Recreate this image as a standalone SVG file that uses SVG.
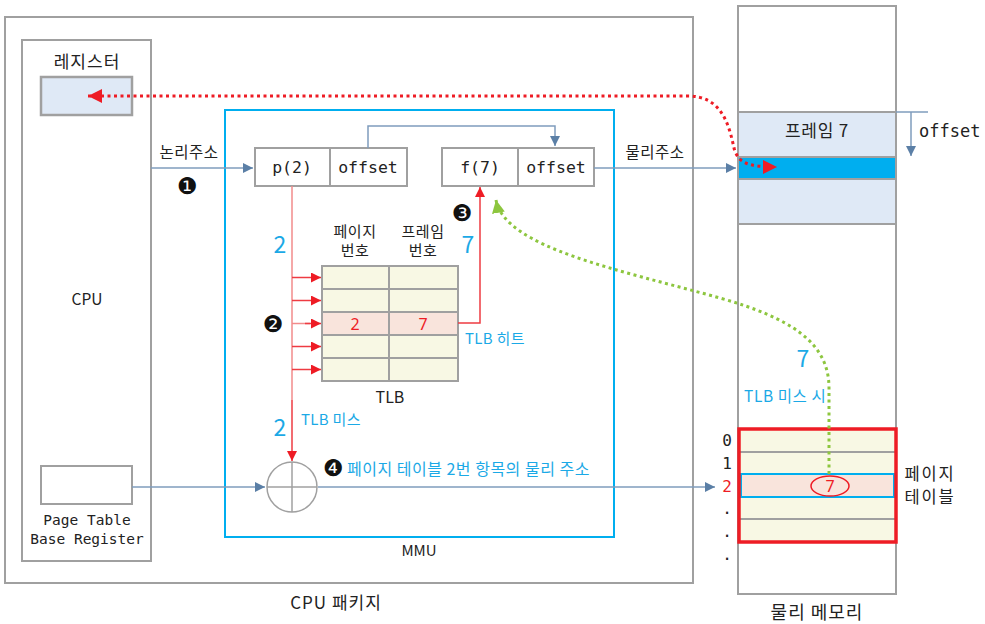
<svg xmlns="http://www.w3.org/2000/svg" width="985" height="624" viewBox="0 0 985 624">
<defs>
<marker id="aBlue" viewBox="0 0 10 10" refX="10" refY="5" markerWidth="10" markerHeight="10" markerUnits="userSpaceOnUse" orient="auto"><path d="M0,0 L10,5 L0,10 z" fill="#5b7fa6"/></marker>
<marker id="aRed" viewBox="0 0 10 10" refX="10" refY="5" markerWidth="10" markerHeight="10" markerUnits="userSpaceOnUse" orient="auto"><path d="M0,0 L10,5 L0,10 z" fill="#ee1c25"/></marker>
<marker id="aRedBig" viewBox="0 0 12 12" refX="12" refY="6" markerWidth="14" markerHeight="14" markerUnits="userSpaceOnUse" orient="auto-start-reverse"><path d="M0,0 L12,6 L0,12 z" fill="#ee1c25"/></marker>
<marker id="aGreen" viewBox="0 0 12 12" refX="12" refY="6" markerWidth="13" markerHeight="13" markerUnits="userSpaceOnUse" orient="auto"><path d="M0,0 L12,6 L0,12 z" fill="#8dc63f"/></marker>
</defs>
<style>
.box{fill:#fff;stroke:#a0a0a0;stroke-width:2}
.reg{fill:#dfe9f6;stroke:#a0a0a0;stroke-width:2.5}
.cyanbox{fill:none;stroke:#00aeef;stroke-width:2}
.t{font-family:"Noto Sans CJK KR","Noto Sans",sans-serif;fill:#222}
.m{font-family:"DejaVu Sans Mono","Liberation Mono",monospace;fill:#222}
.c{font-family:"Noto Sans CJK KR","Noto Sans",sans-serif;fill:#1ba9e6}
.num{font-family:"DejaVu Sans",sans-serif;fill:#111}
.conn{fill:none;stroke:#7f9cbd;stroke-width:1.5}
.red{fill:none;stroke:#ee3b42;stroke-width:1.5}
.pink{fill:none;stroke:#f28b8b;stroke-width:1.5}
.tlb{fill:#f8f8e4;stroke:#a0a0a0;stroke-width:2}
.hit{fill:#f9e4dc;stroke:#a0a0a0;stroke-width:2}
</style>

<g id="cpu-package">
<rect x="5" y="17" width="688" height="566" fill="#fff" stroke="#a0a0a0" stroke-width="2"/>
<text class="t" x="336" y="609" font-size="17" letter-spacing="1" text-anchor="middle">CPU 패키지</text>
</g>

<g id="cpu">
<rect class="box" x="22" y="40" width="129" height="521"/>
<text class="t" x="87" y="68" font-size="17" letter-spacing="1" text-anchor="middle">레지스터</text>
<rect class="reg" x="41" y="77" width="91" height="38"/>
<text class="t" x="87" y="305" font-size="15.5" text-anchor="middle">CPU</text>
</g>

<g id="ptbr">
<rect class="box" x="41" y="466" width="91" height="38"/>
<text class="m" x="87" y="525" font-size="14.5" text-anchor="middle">Page Table</text>
<text class="m" x="87" y="544" font-size="14.5" text-anchor="middle">Base Register</text>
</g>

<g id="mmu">
<rect class="cyanbox" x="225" y="110" width="389" height="427"/>
<text class="t" x="419" y="556" font-size="15" text-anchor="middle">MMU</text>
</g>

<g id="logical-address">
<rect class="box" x="255" y="148" width="75" height="38"/>
<rect class="box" x="330" y="148" width="77" height="38"/>
<text class="m" x="292" y="173" font-size="16.5" text-anchor="middle">p(2)</text>
<text class="m" x="368" y="173" font-size="16.5" text-anchor="middle">offset</text>
</g>

<g id="physical-address">
<rect class="box" x="442" y="148" width="76" height="38"/>
<rect class="box" x="518" y="148" width="76" height="38"/>
<text class="m" x="480" y="173" font-size="16.5" text-anchor="middle">f(7)</text>
<text class="m" x="556" y="173" font-size="16.5" text-anchor="middle">offset</text>
</g>

<g id="tlb">
<rect class="tlb" x="322" y="266" width="136" height="115"/>
<rect class="hit" x="322" y="312" width="136" height="23"/>
<line x1="322" y1="289" x2="458" y2="289" stroke="#a0a0a0" stroke-width="2"/>
<line x1="322" y1="358" x2="458" y2="358" stroke="#a0a0a0" stroke-width="2"/>
<line x1="389" y1="266" x2="389" y2="381" stroke="#a0a0a0" stroke-width="2"/>
<text x="355" y="330" font-size="16" text-anchor="middle" font-family="Noto Sans,sans-serif" fill="#ee1c25">2</text>
<text x="423" y="330" font-size="16" text-anchor="middle" font-family="Noto Sans,sans-serif" fill="#ee1c25">7</text>
<text class="t" x="355" y="237" font-size="15" letter-spacing="0.5" text-anchor="middle">페이지</text>
<text class="t" x="355" y="256" font-size="15" letter-spacing="0.5" text-anchor="middle">번호</text>
<text class="t" x="423" y="237" font-size="15" letter-spacing="0.5" text-anchor="middle">프레임</text>
<text class="t" x="423" y="256" font-size="15" letter-spacing="0.5" text-anchor="middle">번호</text>
<text class="t" x="390" y="403" font-size="16" text-anchor="middle">TLB</text>
</g>

<g id="adder">
<circle cx="292" cy="487" r="25" fill="#fff" stroke="#a0a0a0" stroke-width="1.5"/>
<line x1="267" y1="487" x2="317" y2="487" stroke="#a0a0a0" stroke-width="1.5"/>
<line x1="292" y1="462" x2="292" y2="512" stroke="#a0a0a0" stroke-width="1.5"/>
</g>

<g id="physical-memory">
<rect x="738" y="6" width="158" height="588" fill="#fff" stroke="#a0a0a0" stroke-width="2"/>
<rect x="738" y="112" width="158" height="45" fill="#dfe9f6" stroke="#a0a0a0" stroke-width="2"/>
<rect x="738" y="157" width="158" height="22" fill="#00aeef" stroke="#a0a0a0" stroke-width="2"/>
<rect x="738" y="179" width="158" height="45" fill="#dfe9f6" stroke="#a0a0a0" stroke-width="2"/>
<text class="t" x="817" y="137" font-size="17" letter-spacing="0.8" text-anchor="middle">프레임 7</text>
<line x1="896" y1="112" x2="928" y2="112" stroke="#7f9cbd" stroke-width="1.5"/>
<line x1="911" y1="112" x2="911" y2="156" stroke="#7f9cbd" stroke-width="1.5" marker-end="url(#aBlue)"/>
<text class="m" x="919" y="137" font-size="17">offset</text>
<text class="t" x="817" y="619" font-size="18" letter-spacing="1" text-anchor="middle">물리 메모리</text>
</g>

<g id="page-table">
<rect x="739" y="429" width="157" height="113" fill="#f8f8e4"/>
<line x1="739" y1="452" x2="896" y2="452" stroke="#a0a0a0" stroke-width="2"/>
<line x1="739" y1="519" x2="896" y2="519" stroke="#a0a0a0" stroke-width="2"/>
<rect x="741" y="474" width="153" height="23" fill="#f9e4dc" stroke="#00aeef" stroke-width="2"/>
<rect x="739" y="429" width="157" height="113" fill="none" stroke="#ee1c25" stroke-width="3.5"/>
<ellipse cx="830" cy="486" rx="19" ry="10" fill="none" stroke="#ee1c25" stroke-width="1.5"/>
<text x="830" y="492" font-size="16" text-anchor="middle" font-family="Noto Sans,sans-serif" fill="#ee1c25">7</text>
<text class="m" x="727" y="446" font-size="16" text-anchor="middle">0</text>
<text class="m" x="727" y="469" font-size="16" text-anchor="middle">1</text>
<text class="m" x="727" y="492" font-size="16" text-anchor="middle" style="fill:#ee1c25">2</text>
<text class="m" x="727" y="514" font-size="16" text-anchor="middle">.</text>
<text class="m" x="727" y="537" font-size="16" text-anchor="middle">.</text>
<text class="m" x="727" y="560" font-size="16" text-anchor="middle">.</text>
<text class="t" x="930" y="480" font-size="16.5" letter-spacing="1.8" text-anchor="middle">페이지</text>
<text class="t" x="930" y="503" font-size="16.5" letter-spacing="1.8" text-anchor="middle">테이블</text>
</g>

<g id="connectors">
<path class="conn" d="M151,168 H253" marker-end="url(#aBlue)"/>
<path class="conn" d="M368,148 V126 H555 V146" marker-end="url(#aBlue)"/>
<path class="conn" d="M594,168 H736" marker-end="url(#aBlue)"/>
<path class="conn" d="M132,487 H265" marker-end="url(#aBlue)"/>
<path class="conn" d="M318,487 H715" marker-end="url(#aBlue)"/>
<path class="pink" d="M292,186 V400"/>
<path class="red" d="M292,400 V461" marker-end="url(#aRed)"/>
<path class="red" d="M292,277.5 H321" marker-end="url(#aRed)"/>
<path class="red" d="M292,300.5 H321" marker-end="url(#aRed)"/>
<path class="pink" d="M292,323.5 H310"/>
<path class="red" d="M305,323.5 H321" marker-end="url(#aRed)"/>
<path class="red" d="M292,346.5 H321" marker-end="url(#aRed)"/>
<path class="red" d="M292,369.5 H321" marker-end="url(#aRed)"/>
<path class="red" d="M458,323 H480 V187" marker-end="url(#aRed)"/>
<path d="M88,96 H688 C722,96 729,125 734,148 C738,163 748,167 777,167" fill="none" stroke="#ee1c25" stroke-width="3" stroke-dasharray="3 3.5" marker-start="url(#aRedBig)" marker-end="url(#aRedBig)"/>
<path d="M829,474 V388 C829,342 790,318 720,298 C620,270 505,248 496,200" fill="none" stroke="#8dc63f" stroke-width="3" stroke-dasharray="3 3.5" marker-end="url(#aGreen)"/>
</g>

<g id="labels">
<text class="t" x="189" y="158" font-size="15.5" letter-spacing="0.5" text-anchor="middle">논리주소</text>
<text class="t" x="655" y="158" font-size="15.5" letter-spacing="0.5" text-anchor="middle">물리주소</text>
<text class="num" x="187" y="194" font-size="23" text-anchor="middle">❶</text>
<text class="num" x="273" y="332" font-size="23" text-anchor="middle">❷</text>
<text class="num" x="462" y="221" font-size="23" text-anchor="middle">❸</text>
<text class="num" x="333" y="476" font-size="23" text-anchor="middle">❹</text>
<text class="c" x="347" y="475" font-size="16" letter-spacing="0.5">페이지 테이블 2번 항목의 물리 주소</text>
<text class="c" x="465" y="344" font-size="15" letter-spacing="0.3">TLB 히트</text>
<text class="c" x="301" y="425" font-size="15" letter-spacing="0.3">TLB 미스</text>
<text class="c" x="744" y="402" font-size="15.5" letter-spacing="0.6">TLB 미스 시</text>
<text class="c" x="280" y="253" font-size="23" text-anchor="middle">2</text>
<text class="c" x="468" y="253" font-size="23" text-anchor="middle">7</text>
<text class="c" x="280" y="436" font-size="23" text-anchor="middle">2</text>
<text class="c" x="803" y="367" font-size="23" text-anchor="middle">7</text>
</g>
</svg>
